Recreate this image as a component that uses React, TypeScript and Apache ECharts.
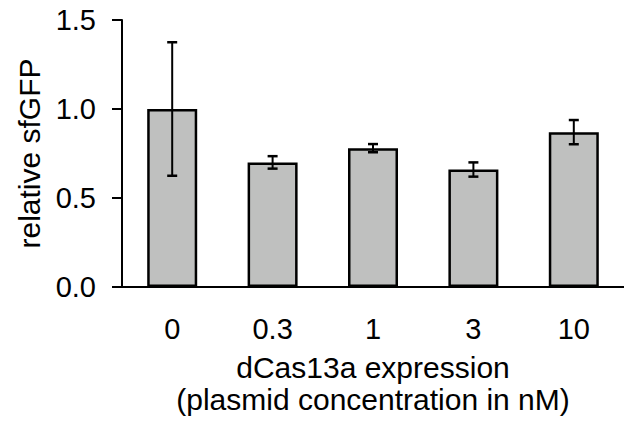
import React, { useEffect, useRef } from "react";
import * as echarts from "echarts";

const categories = ["0", "0.3", "1", "3", "10"];
const values = [1.0, 0.70, 0.78, 0.66, 0.87];
const errors = [0.375, 0.035, 0.023, 0.04, 0.068];
const yTicks = { min: 0, max: 1.5, interval: 0.5 };

const FONT = "'Liberation Sans', Arial, sans-serif";

export default function App() {
  const ref = useRef<HTMLDivElement>(null);
  useEffect(() => {
    if (!ref.current) return;
    const chart = echarts.init(ref.current, undefined, { renderer: "svg" });
    const errData = values.map((v, i) => [i, v - errors[i], v + errors[i]]);
    chart.setOption({
      animation: false,
      textStyle: { fontFamily: FONT },
      grid: { left: 122, top: 20, height: 267, width: 514 },
      xAxis: {
        type: "category",
        data: categories,
        name: "dCas13a expression\n(plasmid concentration in nM)",
        nameLocation: "middle",
        nameGap: 64,
        nameTextStyle: { fontSize: 30, color: "#000", fontFamily: FONT, lineHeight: 32 },
        axisLine: { lineStyle: { color: "#000", width: 2 } },
        axisTick: { show: false },
        axisLabel: { fontSize: 29, color: "#000", fontFamily: FONT, margin: 27 },
      },
      yAxis: {
        type: "value",
        min: yTicks.min,
        max: yTicks.max,
        interval: yTicks.interval,
        name: "relative sfGFP",
        nameLocation: "middle",
        nameGap: 74,
        nameRotate: 90,
        nameTextStyle: { fontSize: 30, color: "#000", fontFamily: FONT },
        axisLine: { show: true, lineStyle: { color: "#000", width: 2 } },
        axisTick: { show: true, length: 10, lineStyle: { color: "#000", width: 2 } },
        splitLine: { show: false },
        axisLabel: {
          fontSize: 29,
          color: "#000",
          fontFamily: FONT,
          margin: 26,
          formatter: (v: number) => v.toFixed(1),
        },
      },
      series: [
        {
          type: "bar",
          data: values,
          barWidth: 50,
          itemStyle: { color: "#bfc0bf", borderColor: "#000", borderWidth: 2.5 },
          z: 2,
        },
        {
          type: "custom",
          data: errData,
          z: 5,
          renderItem: (params: any, api: any) => {
            const x = api.value(0);
            const lo = api.coord([x, api.value(1)]);
            const hi = api.coord([x, api.value(2)]);
            const cw = 5;
            const style = { stroke: "#000", lineWidth: 2 };
            return {
              type: "group",
              children: [
                { type: "line", shape: { x1: lo[0], y1: lo[1], x2: hi[0], y2: hi[1] }, style },
                { type: "line", shape: { x1: hi[0] - cw, y1: hi[1], x2: hi[0] + cw, y2: hi[1] }, style: { stroke: "#000", lineWidth: 2.5 } },
                { type: "line", shape: { x1: lo[0] - cw, y1: lo[1], x2: lo[0] + cw, y2: lo[1] }, style: { stroke: "#000", lineWidth: 2.5 } },
              ],
            };
          },
        },
      ],
    });
    return () => chart.dispose();
  }, []);
  return (
    <div
      ref={ref}
      style={{ position: "fixed", left: 0, top: 0, width: 624, height: 421, background: "#fff" }}
    />
  );
}
